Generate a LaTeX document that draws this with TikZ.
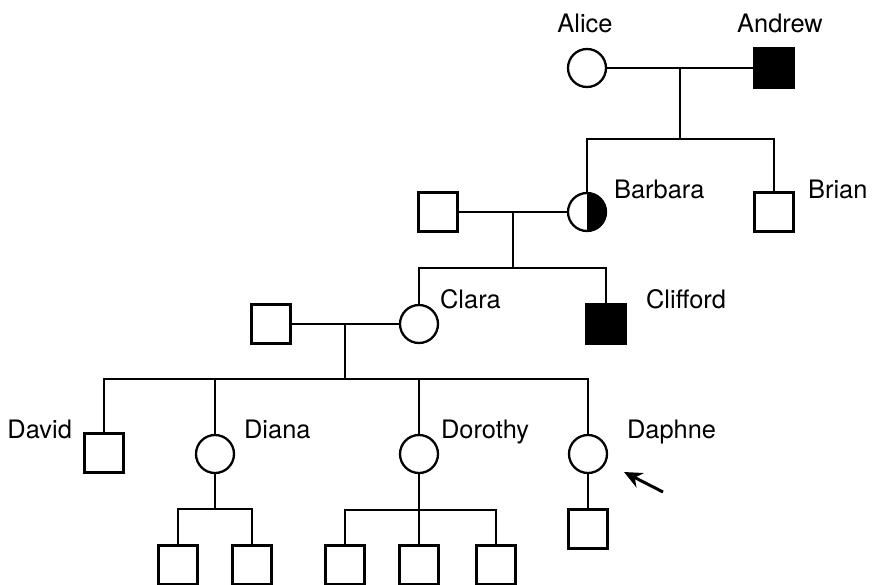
\documentclass[tikz,border=0pt]{standalone}
\usepackage{fontspec}
\setmainfont{TeX Gyre Heros}
\usetikzlibrary{positioning,arrows.meta}

\begin{document}
\begin{tikzpicture}[x=0.5pt, y=-0.5pt, line width=1.15pt,
  male/.style={draw, rectangle, minimum size=19.5pt, inner sep=0pt, fill=white},
  female/.style={draw, circle, minimum size=19pt, inner sep=0pt, fill=white},
  affected/.style={fill=black},
  carrier/.style={path picture={\fill[black] (path picture bounding box.south) rectangle (path picture bounding box.north east);}},
  lbl/.style={font=\fontsize{12.7}{15}\selectfont, inner sep=0pt},
  pointer/.style={-{Stealth[length=9pt,width=8pt]}, line width=1.5pt}]
\useasboundingbox (0,0) rectangle (873,584);
% generation I
\node[female] (alice) at (587,68) {};
\node[male, affected] (andrew) at (774,68) {};
\node[lbl, anchor=base] (lalice) at (585,32) {Alice};
\node[lbl, anchor=base] (landrew) at (780,32) {Andrew};
% generation II
\node[female, carrier] (barbara) at (587,212) {};
\node[male] (brian) at (774,212) {};
\node[male] (husb1) at (438,212) {};
\node[lbl, anchor=base west] (lbarbara) at (613,198) {Barbara};
\node[lbl, anchor=base west] (lbrian) at (807,198) {Brian};
% generation III
\node[female] (clara) at (419,324) {};
\node[male, affected] (clifford) at (606,324) {};
\node[male] (husb2) at (271,324) {};
\node[lbl, anchor=base west] (lclara) at (439,308) {Clara};
\node[lbl, anchor=base west] (lclifford) at (645,308) {Clifford};
% generation IV
\node[male] (david) at (104,453) {};
\node[female] (diana) at (215,454) {};
\node[female] (dorothy) at (419,454) {};
\node[female] (daphne) at (588,454) {};
\node[lbl, anchor=base east] (ldavid) at (73,438) {David};
\node[lbl, anchor=base west] (ldiana) at (243,438) {Diana};
\node[lbl, anchor=base west] (ldorothy) at (440,438) {Dorothy};
\node[lbl, anchor=base west] (ldaphne) at (626,438) {Daphne};
% generation V
\foreach \n/\x in {dk1/178, dk2/252, dk3/345, dk4/419, dk5/496}
  \node[male] (\n) at (\x,565) {};
\node[male] (dk6) at (588,529) {};
% marriages and sibships
\coordinate (m1) at (680,68);  \coordinate (s1) at (680,139);
\coordinate (m2) at (513,212); \coordinate (s2) at (513,268);
\coordinate (m3) at (345,324); \coordinate (s3) at (345,379);
\coordinate (s4) at (215,509); \coordinate (s5) at (419,510);
\draw (alice) -- (andrew);
\draw (m1) -- (s1);
\draw (barbara) |- (s1) -| (brian);
\draw (husb1) -- (barbara);
\draw (m2) -- (s2);
\draw (clara) |- (s2) -| (clifford);
\draw (husb2) -- (clara);
\draw (m3) -- (s3);
\draw (david) |- (s3) -| (daphne);
\draw (diana) -- (diana |- s3);
\draw (dorothy) -- (dorothy |- s3);
\draw (diana) -- (s4);
\draw (dk1) |- (s4) -| (dk2);
\draw (dorothy) -- (dk4);
\draw (dk3) |- (s5) -| (dk5);
\draw (daphne) -- (dk6);
% proband
\coordinate (ptail) at (663,492);
\coordinate (phead) at (624,472);
\draw[pointer] (ptail) -- (phead);
\end{tikzpicture}
\end{document}
